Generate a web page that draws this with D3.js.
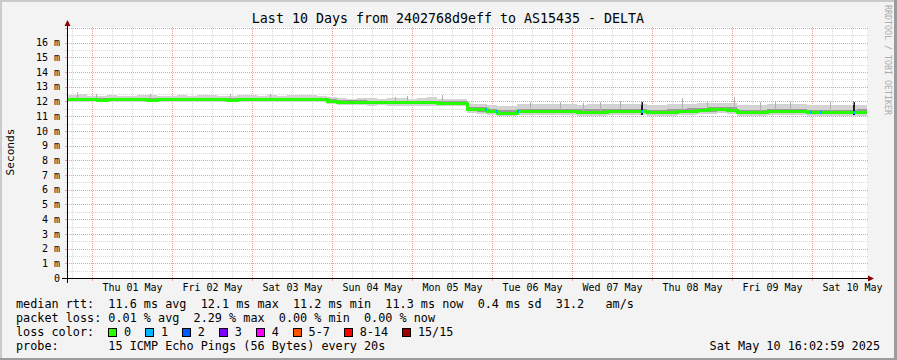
<!DOCTYPE html>
<html><head><meta charset="utf-8">
<script src="https://cdn.jsdelivr.net/npm/d3@7"></script>
<style>
body{margin:0;background:#f3f3f3;}
svg{display:block}
text{font-family:"DejaVu Sans Mono",monospace;}
</style></head><body>
<svg id="chart" width="897" height="360"></svg>
<script>
// ---------- data ----------
const title = "Last 10 Days from 2402768d9eff to AS15435 - DELTA";
const startTime = "2025-04-30T16:30:00";
const binHours = 3;
const yMax = 17.06;
const yTicks = [0,1,2,3,4,5,6,7,8,9,10,11,12,13,14,15,16];
const medianRtt = [
12.10,12.11,12.10,12.09,12.10,12.11,12.10,12.10,12.09,12.10,
12.10,12.11,12.10,12.10,12.11,12.10,12.09,12.10,12.11,12.10,
12.11,12.10,12.11,12.12,12.11,12.10,12.00,11.95,11.94,11.94,
11.93,11.93,11.92,11.93,11.92,11.91,11.90,11.89,11.88,11.87,
11.45,11.43,11.30,11.21,11.20,11.30,11.32,11.31,11.32,11.31,
11.30,11.27,11.27,11.28,11.31,11.32,11.31,11.30,11.25,11.25,
11.26,11.30,11.35,11.36,11.42,11.43,11.40,11.24,11.23,11.25,
11.31,11.32,11.30,11.31,11.24,11.23,11.25,11.24,11.25,11.26];
const smokeMax = [
12.42,12.48,12.38,12.36,12.44,12.40,12.37,12.45,12.41,12.39,
12.38,12.44,12.40,12.42,12.46,12.39,12.36,12.41,12.44,12.40,
12.43,12.38,12.45,12.44,12.42,12.40,12.32,12.24,12.20,12.26,
12.22,12.20,12.23,12.25,12.20,12.22,12.28,12.19,12.18,12.17,
11.86,11.83,11.78,11.72,11.70,11.80,11.83,11.86,11.84,11.80,
11.83,11.78,11.80,11.81,11.84,11.83,11.86,11.81,11.76,11.78,
11.80,11.83,11.86,11.88,11.92,11.90,11.87,11.76,11.74,11.78,
11.84,11.83,11.80,11.83,11.76,11.75,11.78,11.77,11.76,11.78];
const smokeHi = [
12.22,12.23,12.22,12.21,12.22,12.23,12.22,12.22,12.21,12.22,
12.22,12.23,12.22,12.22,12.23,12.22,12.21,12.22,12.23,12.22,
12.23,12.22,12.23,12.24,12.23,12.22,12.14,12.08,12.07,12.07,
12.06,12.06,12.05,12.06,12.05,12.04,12.03,12.02,12.01,12.00,
11.64,11.62,11.50,11.41,11.40,11.50,11.52,11.51,11.52,11.51,
11.50,11.47,11.47,11.48,11.51,11.52,11.51,11.50,11.45,11.45,
11.46,11.50,11.55,11.56,11.62,11.63,11.60,11.44,11.43,11.45,
11.51,11.52,11.50,11.51,11.44,11.43,11.45,11.44,11.45,11.46];
const smokeLo = [
12.03,12.04,12.03,12.02,12.03,12.04,12.03,12.03,12.02,12.03,
12.03,12.04,12.03,12.03,12.04,12.03,12.02,12.03,12.04,12.03,
12.04,12.03,12.04,12.05,12.04,12.03,11.92,11.86,11.85,11.85,
11.84,11.84,11.83,11.84,11.83,11.82,11.81,11.80,11.79,11.78,
11.33,11.31,11.19,11.11,11.10,11.19,11.21,11.20,11.21,11.20,
11.19,11.16,11.16,11.17,11.20,11.21,11.20,11.19,11.14,11.14,
11.15,11.19,11.24,11.25,11.31,11.32,11.29,11.13,11.12,11.14,
11.20,11.21,11.19,11.20,11.13,11.12,11.14,11.13,11.14,11.15];
const smokeMin = [
11.95,11.96,11.94,11.93,11.95,11.96,11.94,11.95,11.93,11.95,
11.94,11.96,11.95,11.94,11.96,11.95,11.93,11.94,11.96,11.95,
11.96,11.94,11.96,11.97,11.95,11.94,11.83,11.74,11.73,11.74,
11.72,11.73,11.71,11.72,11.72,11.70,11.69,11.68,11.68,11.66,
11.20,11.18,11.06,11.00,10.99,11.06,11.08,11.07,11.08,11.06,
11.06,11.03,11.04,11.04,11.07,11.08,11.06,11.06,11.01,11.02,
11.03,11.06,11.11,11.12,11.18,11.19,11.16,11.01,11.00,11.02,
11.07,11.08,11.06,11.07,11.01,11.00,11.02,11.01,11.02,11.03];
// thin smoke spikes (hours after start, top value in ms)
const spikeHours = [3, 8.7, 24.9, 48.9, 60.9, 98.4, 102, 112.5, 138.9, 147.9, 154.8, 159.9, 165.9, 184.5, 192, 200.1, 207.9, 212.4, 216.9, 228.9];
const spikeTops  = [12.67, 12.50, 12.52, 12.50, 12.52, 12.30, 12.34, 12.45, 11.95, 11.98, 11.92, 11.96, 12.00, 12.24, 11.97, 12.28, 11.98, 12.05, 11.94, 11.98];
// loss events (hours after start, lost pings, top of dark spike or null)
const lossHours  = [125.4, 128.7, 135.0, 172.2, 222.9, 225.9, 235.8];
const lossCounts = [1, 1, 1, 1, 1, 1, 1];
const lossTops   = [null, null, null, 11.96, null, null, 11.98];
const lossColors = ["#26ff00","#00b8ff","#0059ff","#7e00ff","#ff00ff","#ff5500","#ff0000","#a10000"];
const lossLabels = ["0","1","2","3","4","5-7","8-14","15/15"];
const legendRtt  = "median rtt:  11.6 ms avg  12.1 ms max  11.2 ms min  11.3 ms now  0.4 ms sd  31.2   am/s";
const legendLoss = "packet loss: 0.01 % avg  2.29 % max  0.00 % min  0.00 % now";
const legendLossLabel = "loss color:";
const legendProbe = "probe:       15 ICMP Echo Pings (56 Bytes) every 20s";
const stamp = "Sat May 10 16:02:59 2025";
const yLabel = "Seconds";
const credit = "RRDTOOL / TOBI OETIKER";

// ---------- drawing ----------
const W = 897, H = 360;
const P = {left:67, right:867, top:27, bottom:278};
const svg = d3.select("#chart");
svg.append("rect").attr("width",W).attr("height",H).attr("fill","#f3f3f3");
// 3D frame
svg.append("rect").attr("x",0).attr("y",0).attr("width",W).attr("height",2).attr("fill","#cbcbcb");
svg.append("rect").attr("x",0).attr("y",0).attr("width",2).attr("height",H).attr("fill","#cbcbcb");
svg.append("rect").attr("x",0).attr("y",H-2).attr("width",W).attr("height",2).attr("fill","#9b9b9b");
svg.append("rect").attr("x",W-3).attr("y",0).attr("width",3).attr("height",H).attr("fill","#9b9b9b");

const parse = d3.timeParse("%Y-%m-%dT%H:%M:%S");
const t0 = parse(startTime);
const t1 = d3.timeHour.offset(t0, binHours*medianRtt.length);
const x = d3.scaleTime().domain([t0,t1]).range([P.left,P.right]);
const y = d3.scaleLinear().domain([0,yMax]).range([P.bottom,P.top]);
const hx = h => x(new Date(+t0 + h*3600e3));
const px = v => Math.round(v)+0.5;

svg.append("rect").attr("x",P.left).attr("y",P.top).attr("width",P.right-P.left).attr("height",P.bottom-P.top).attr("fill","#ffffff");

const grid = svg.append("g").attr("shape-rendering","crispEdges");
const minorC = "#d8d8d8", majorC = "#f39a9a";
// horizontal grid
d3.range(0.5, yMax, 0.5).forEach(v=>{
  const major = Math.abs(v-Math.round(v))<1e-9;
  const c = major?majorC:minorC;
  grid.append("line").attr("x1",P.left).attr("x2",P.right+2).attr("y1",px(y(v))).attr("y2",px(y(v)))
    .attr("stroke",c).attr("stroke-dasharray","1,1");
  grid.append("line").attr("x1",P.left-2).attr("x2",P.left).attr("y1",px(y(v))).attr("y2",px(y(v))).attr("stroke",c);
});
// vertical grid
const minorX = d3.timeHour.every(6).range(t0,t1).filter(d=>d.getHours()!==0);
const majorX = d3.timeDay.range(t0,t1);
minorX.forEach(d=>{
  grid.append("line").attr("x1",px(x(d))).attr("x2",px(x(d))).attr("y1",P.top).attr("y2",P.bottom)
    .attr("stroke",minorC).attr("stroke-dasharray","1,1");
});
majorX.forEach(d=>{
  grid.append("line").attr("x1",px(x(d))).attr("x2",px(x(d))).attr("y1",P.top).attr("y2",P.bottom)
    .attr("stroke",majorC).attr("stroke-dasharray","1,1");
  grid.append("line").attr("x1",px(x(d))).attr("x2",px(x(d))).attr("y1",P.bottom).attr("y2",P.bottom+3).attr("stroke",majorC);
});

// binned data incl. closing edge
const bins = medianRtt.map((m,i)=>({t:d3.timeHour.offset(t0,i*binHours), m, mx:smokeMax[i], hi:smokeHi[i], lo:smokeLo[i], mn:smokeMin[i]}));
const last = bins[bins.length-1];
bins.push(Object.assign({}, last, {t:t1}));

const data = svg.append("g").attr("shape-rendering","crispEdges");
const area = (a,b)=>d3.area().curve(d3.curveStepAfter).x(d=>x(d.t)).y0(d=>y(d[a])).y1(d=>y(d[b]));
data.append("path").datum(bins).attr("d",area("mn","mx")).attr("fill","#d3d3d3");
data.append("path").datum(bins).attr("d",area("lo","hi")).attr("fill","#9c9c9c");
// thin spikes
spikeHours.forEach((h,i)=>{
  const m = medianRtt[Math.min(medianRtt.length-1, Math.floor(h/binHours))];
  data.append("line").attr("x1",px(hx(h))).attr("x2",px(hx(h))).attr("y1",y(m)).attr("y2",y(spikeTops[i]))
    .attr("stroke","#b0b0b0");
});
// median line
data.append("path").datum(bins)
  .attr("d",d3.line().curve(d3.curveStepAfter).x(d=>x(d.t)).y(d=>y(d.m)))
  .attr("fill","none").attr("stroke",lossColors[0]).attr("stroke-width",3);
// loss marks
lossHours.forEach((h,i)=>{
  const m = medianRtt[Math.min(medianRtt.length-1, Math.floor(h/binHours))];
  const xx = Math.round(hx(h));
  if (lossTops[i]!==null){
    data.append("rect").attr("x",xx).attr("width",2).attr("y",y(lossTops[i])).attr("height",y(m)-y(lossTops[i])+3).attr("fill","#1e1e1e");
    data.append("rect").attr("x",xx).attr("width",1).attr("y",y(lossTops[i])-1).attr("height",4).attr("fill",lossColors[lossCounts[i]]);
  }
  data.append("rect").attr("x",xx).attr("width",2).attr("y",y(m)-1.5).attr("height",3).attr("fill",lossColors[lossCounts[i]]);
});

// axes lines
const ax = svg.append("g").attr("shape-rendering","crispEdges");
ax.append("line").attr("x1",P.left-5).attr("x2",P.right+4).attr("y1",P.bottom+0.5).attr("y2",P.bottom+0.5).attr("stroke","#000");
ax.append("line").attr("x1",P.left+0.5).attr("x2",P.left+0.5).attr("y1",P.bottom+5).attr("y2",P.top-3).attr("stroke","#000");
svg.append("path").attr("d",`M${P.right+1},${P.bottom-2.5}L${P.right+7},${P.bottom+0.5}L${P.right+1},${P.bottom+3.5}Z`).attr("fill","#8b0000");
svg.append("path").attr("d",`M${P.left-2.5},${P.top-1}L${P.left+0.5},${P.top-7}L${P.left+3.5},${P.top-1}Z`).attr("fill","#8b0000");

// y axis labels
const yAxis = d3.axisLeft(y).tickValues(yTicks).tickFormat(d=>d===0?"0":d+" m").tickSize(0).tickPadding(7);
const gy = svg.append("g").attr("transform",`translate(${P.left},0)`).call(yAxis);
gy.select(".domain").remove();
gy.selectAll("text").attr("font-family","'DejaVu Sans Mono',monospace").attr("font-size",10).attr("fill","#000");

// x axis labels at noon
const noon = d3.timeDay.range(t0,t1).map(d=>d3.timeHour.offset(d,12)).filter(d=>d<t1);
const xAxis = d3.axisBottom(x).tickValues(noon).tickFormat(d3.timeFormat("%a %d %b")).tickSize(0).tickPadding(6);
const gx = svg.append("g").attr("transform",`translate(0,${P.bottom})`).call(xAxis);
gx.select(".domain").remove();
gx.selectAll("text").attr("font-family","'DejaVu Sans Mono',monospace").attr("font-size",10).attr("fill","#000");

// title
svg.append("text").attr("x",448).attr("y",23).attr("text-anchor","middle").attr("font-size",13.3).attr("fill","#000").text(title);
// y label
svg.append("text").attr("transform","translate(14,152) rotate(-90)").attr("text-anchor","middle")
  .attr("font-size",11.2).attr("fill","#000").text(yLabel);
// credit
svg.append("text").attr("transform","translate(885,5) rotate(90)").attr("font-size",8.3).attr("fill","#ababab").text(credit);

// legend
const fs = 11.8;
const lg = svg.append("g").attr("font-size",fs).attr("fill","#000").style("white-space","pre");
lg.append("text").attr("x",16).attr("y",308).attr("xml:space","preserve").text(legendRtt);
lg.append("text").attr("x",16).attr("y",322).attr("xml:space","preserve").text(legendLoss);
lg.append("text").attr("x",16).attr("y",336).text(legendLossLabel);
lg.append("text").attr("x",16).attr("y",350).attr("xml:space","preserve").text(legendProbe);
lg.append("text").attr("x",880).attr("y",350).attr("text-anchor","end").text(stamp);
let cx = 108;
lossLabels.forEach((l,i)=>{
  lg.append("rect").attr("x",cx+0.5).attr("y",328.5).attr("width",8).attr("height",8)
    .attr("fill",lossColors[i]).attr("stroke","#000").attr("shape-rendering","crispEdges");
  const t = lg.append("text").attr("x",cx+16).attr("y",336).text(l);
  cx = cx + 16 + t.node().getComputedTextLength() + 13.8;
});
</script></body></html>
